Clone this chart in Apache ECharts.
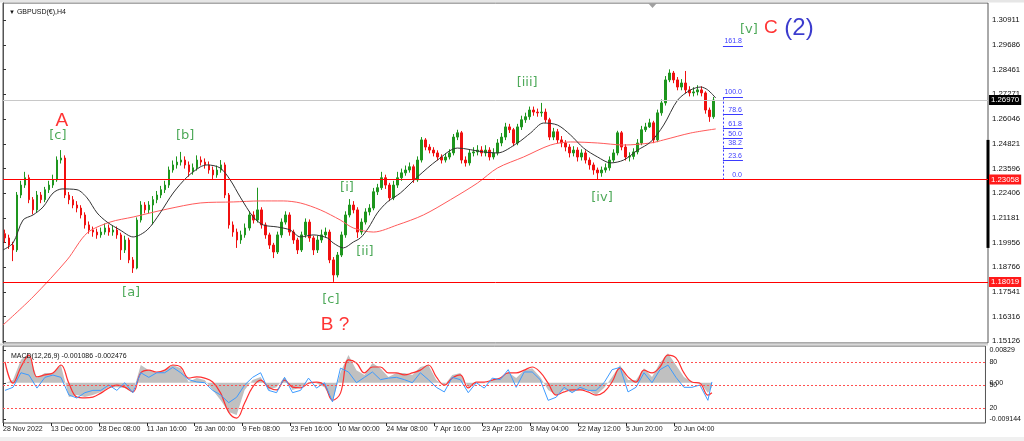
<!DOCTYPE html>
<html>
<head>
<meta charset="utf-8">
<title>GBPUSD H4</title>
<script src="https://cdn.jsdelivr.net/npm/echarts@6/dist/echarts.min.js"></script>
<style>
  html, body { margin: 0; padding: 0; background: #fff; }
  #chart { width: 1024px; height: 441px; }
</style>
</head>
<body>
<div id="chart"></div>
<script>
// price data, one candle per slot
var firstOpen = 1.2040;
var closes = [
  1.2019, 1.1984, 1.1960, 1.2230, 1.2279, 1.2315, 1.2207, 1.2157, 1.2230, 1.2207,
  1.2256, 1.2279, 1.2305, 1.2402, 1.2412, 1.2230, 1.2207, 1.2181, 1.2166, 1.2132,
  1.2083, 1.2058, 1.2048, 1.2034, 1.2048, 1.2068, 1.2048, 1.2058, 1.2034, 1.1960,
  1.2009, 1.1911, 1.1871, 1.2107, 1.2181, 1.2157, 1.2181, 1.2207, 1.2230, 1.2256,
  1.2279, 1.2353, 1.2378, 1.2392, 1.2402, 1.2378, 1.2344, 1.2364, 1.2402, 1.2392,
  1.2378, 1.2353, 1.2329, 1.2353, 1.2378, 1.2230, 1.2083, 1.2048, 1.2009, 1.2034,
  1.2068, 1.2132, 1.2107, 1.2157, 1.2083, 1.2034, 1.1984, 1.1950, 1.2034, 1.2097,
  1.2132, 1.2048, 1.2009, 1.1960, 1.2034, 1.2097, 1.2019, 1.1960, 1.2009, 1.2034,
  1.2048, 1.1911, 1.1837, 1.1935, 1.2034, 1.2132, 1.2181, 1.2157, 1.2048, 1.2097,
  1.2147, 1.2166, 1.2246, 1.2266, 1.2315, 1.2279, 1.2216, 1.2279, 1.2315, 1.2339,
  1.2353, 1.2369, 1.2305, 1.2402, 1.2501, 1.2466, 1.2451, 1.2437, 1.2417, 1.2402,
  1.2417, 1.2437, 1.2515, 1.2536, 1.2402, 1.2388, 1.2437, 1.2442, 1.2451, 1.2437,
  1.2451, 1.2417, 1.2437, 1.2486, 1.2515, 1.2565, 1.2551, 1.2486, 1.2565, 1.2600,
  1.2615, 1.2648, 1.2638, 1.2634, 1.2638, 1.2600, 1.2515, 1.2541, 1.2501, 1.2486,
  1.2466, 1.2437, 1.2451, 1.2417, 1.2437, 1.2402, 1.2378, 1.2353, 1.2339, 1.2353,
  1.2364, 1.2402, 1.2437, 1.2536, 1.2466, 1.2417, 1.2420, 1.2442, 1.2486, 1.2551,
  1.2565, 1.2585, 1.2501, 1.2634, 1.2683, 1.2796, 1.2830, 1.2796, 1.2761, 1.2781,
  1.2747, 1.2732, 1.2737, 1.2747, 1.2732, 1.2648, 1.2615, 1.2697
];
var highs = [
  1.2060, 1.2035, 1.2000, 1.2245, 1.2300, 1.2344, 1.2330, 1.2220, 1.2250, 1.2245,
  1.2270, 1.2300, 1.2330, 1.2420, 1.2451, 1.2425, 1.2245, 1.2225, 1.2200, 1.2180,
  1.2145, 1.2100, 1.2075, 1.2065, 1.2070, 1.2090, 1.2085, 1.2080, 1.2075, 1.2045,
  1.2030, 1.2020, 1.1925, 1.2120, 1.2200, 1.2195, 1.2200, 1.2225, 1.2250, 1.2275,
  1.2300, 1.2370, 1.2400, 1.2420, 1.2442, 1.2420, 1.2395, 1.2385, 1.2425, 1.2420,
  1.2410, 1.2395, 1.2370, 1.2375, 1.2402, 1.2390, 1.2240, 1.2100, 1.2065, 1.2055,
  1.2090, 1.2150, 1.2150, 1.2266, 1.2170, 1.2095, 1.2045, 1.1995, 1.2050, 1.2115,
  1.2150, 1.2145, 1.2060, 1.2020, 1.2050, 1.2115, 1.2110, 1.2030, 1.2030, 1.2060,
  1.2070, 1.2060, 1.1925, 1.1950, 1.2050, 1.2150, 1.2210, 1.2200, 1.2170, 1.2115,
  1.2165, 1.2185, 1.2265, 1.2285, 1.2344, 1.2330, 1.2290, 1.2300, 1.2344, 1.2360,
  1.2375, 1.2390, 1.2380, 1.2420, 1.2515, 1.2510, 1.2480, 1.2465, 1.2450, 1.2430,
  1.2435, 1.2455, 1.2530, 1.2551, 1.2545, 1.2420, 1.2455, 1.2465, 1.2475, 1.2470,
  1.2475, 1.2465, 1.2460, 1.2505, 1.2535, 1.2585, 1.2580, 1.2560, 1.2580, 1.2620,
  1.2635, 1.2665, 1.2665, 1.2655, 1.2683, 1.2655, 1.2610, 1.2560, 1.2555, 1.2520,
  1.2500, 1.2480, 1.2470, 1.2465, 1.2455, 1.2450, 1.2415, 1.2390, 1.2365, 1.2370,
  1.2385, 1.2420, 1.2455, 1.2546, 1.2545, 1.2480, 1.2440, 1.2460, 1.2505, 1.2570,
  1.2585, 1.2605, 1.2595, 1.2650, 1.2700, 1.2815, 1.2848, 1.2840, 1.2810, 1.2800,
  1.2840, 1.2765, 1.2760, 1.2770, 1.2765, 1.2740, 1.2660, 1.2712
];
var lows = [
  1.1995, 1.1965, 1.1905, 1.1950, 1.2215, 1.2265, 1.2190, 1.2135, 1.2145, 1.2190,
  1.2195, 1.2240, 1.2265, 1.2295, 1.2385, 1.2215, 1.2185, 1.2165, 1.2145, 1.2115,
  1.2065, 1.2040, 1.2025, 1.2015, 1.2020, 1.2035, 1.2030, 1.2030, 1.2015, 1.1911,
  1.1945, 1.1895, 1.1847, 1.1865, 1.2095, 1.2140, 1.2140, 1.2085, 1.2190, 1.2215,
  1.2240, 1.2265, 1.2340, 1.2360, 1.2375, 1.2360, 1.2320, 1.2330, 1.2350, 1.2375,
  1.2360, 1.2335, 1.2305, 1.2315, 1.2340, 1.2215, 1.2065, 1.2025, 1.1970, 1.1990,
  1.2020, 1.2055, 1.2090, 1.2095, 1.2065, 1.2015, 1.1965, 1.1920, 1.1940, 1.2020,
  1.2085, 1.2030, 1.1990, 1.1940, 1.1950, 1.2020, 1.2000, 1.1935, 1.1945, 1.1995,
  1.2020, 1.1895, 1.1803, 1.1825, 1.1925, 1.2020, 1.2120, 1.2140, 1.2019, 1.2035,
  1.2085, 1.2130, 1.2155, 1.2230, 1.2255, 1.2260, 1.2200, 1.2205, 1.2265, 1.2300,
  1.2325, 1.2340, 1.2290, 1.2295, 1.2390, 1.2450, 1.2435, 1.2420, 1.2400, 1.2385,
  1.2390, 1.2405, 1.2425, 1.2500, 1.2385, 1.2370, 1.2375, 1.2420, 1.2425, 1.2420,
  1.2420, 1.2400, 1.2405, 1.2425, 1.2470, 1.2500, 1.2535, 1.2470, 1.2475, 1.2550,
  1.2585, 1.2600, 1.2620, 1.2615, 1.2615, 1.2585, 1.2500, 1.2500, 1.2485, 1.2465,
  1.2445, 1.2415, 1.2420, 1.2395, 1.2400, 1.2385, 1.2355, 1.2330, 1.2306, 1.2320,
  1.2340, 1.2350, 1.2390, 1.2425, 1.2450, 1.2400, 1.2395, 1.2405, 1.2430, 1.2475,
  1.2540, 1.2560, 1.2485, 1.2490, 1.2620, 1.2670, 1.2785, 1.2780, 1.2745, 1.2745,
  1.2730, 1.2715, 1.2715, 1.2720, 1.2715, 1.2630, 1.2590, 1.2605
];

// moving averages, [slot, price]
var maFast = [
  [0, 1.1960], [2.5, 1.1994], [5, 1.2107], [7.5, 1.2132], [10, 1.2171], [12.5, 1.2240],
  [14.75, 1.2260], [18.5, 1.2256], [21, 1.2216], [23.5, 1.2142], [26, 1.2097], [29.25, 1.2058],
  [32.5, 1.2024], [36, 1.2058], [39.25, 1.2142], [42.5, 1.2240], [46, 1.2319], [49.25, 1.2368],
  [51, 1.2378], [54.25, 1.2363], [56.75, 1.2304], [59.25, 1.2220], [62.5, 1.2122], [65, 1.2083],
  [68.5, 1.2073], [71.75, 1.2058], [74.25, 1.2024], [77.5, 1.2034], [81, 1.2019], [82.5, 1.1994],
  [85, 1.1970], [87.5, 1.1999], [89.25, 1.2019], [91.25, 1.2068], [93.5, 1.2142], [96, 1.2196],
  [99.25, 1.2240], [103.5, 1.2319], [108.5, 1.2402], [113.5, 1.2461], [120, 1.2442], [123.5, 1.2437],
  [128.5, 1.2486], [131.75, 1.2535], [135, 1.2584], [138.5, 1.2574], [141.75, 1.2525], [145, 1.2461],
  [148.5, 1.2417], [151.75, 1.2388], [155, 1.2402], [158.5, 1.2451], [161.75, 1.2491], [165, 1.2574],
  [168.5, 1.2697], [171.75, 1.2747], [174.25, 1.2761], [176, 1.2747], [178, 1.2707]
];
var maSlow = [
  [0, 1.1591], [7.5, 1.1729], [16, 1.1911], [21, 1.2043], [26.75, 1.2097], [32.5, 1.2122],
  [41, 1.2161], [49.25, 1.2191], [57.5, 1.2196], [64.25, 1.2201], [70, 1.2201], [74.25, 1.2191],
  [79.25, 1.2157], [84.25, 1.2107], [87.5, 1.2068], [92.5, 1.2048], [98.5, 1.2083], [105, 1.2132],
  [111.75, 1.2207], [118.5, 1.2289], [123.5, 1.2363], [130, 1.2417], [136.75, 1.2476], [141.75, 1.2491],
  [148.5, 1.2486], [155, 1.2476], [161.75, 1.2486], [165, 1.2501], [171.75, 1.2535], [178, 1.2555]
];

// MACD panel, one sample every second candle
var macdMain = [
  -0.0001, 0.0007, 0.0058, 0.0075, 0.0012, 0.0025, 0.0025, 0.0045, -0.0036, -0.0031,
  -0.0036, -0.0031, -0.0023, -0.0011, -0.0011, -0.0013, -0.0026, 0.0045, 0.0032, 0.0025,
  0.0032, 0.0045, 0.0037, 0.0002, 0.0012, 0.0007, -0.0018, -0.0044, -0.0074, -0.0081,
  -0.0018, 0.0007, 0.0015, -0.0018, -0.0011, 0.0015, -0.0018, -0.0011, 0.0002, -0.0001,
  -0.0011, -0.0049, 0.0027, 0.0070, 0.0032, 0.0020, 0.0050, 0.0037, 0.0015, 0.0025,
  0.0025, 0.0020, 0.0040, 0.0045, 0.0007, -0.0006, 0.0020, 0.0025, -0.0011, -0.0001,
  -0.0001, 0.0007, 0.0012, 0.0027, 0.0012, 0.0032, 0.0037, 0.0015, -0.0018, -0.0031,
  -0.0018, -0.0023, -0.0018, -0.0018, -0.0031, -0.0013, 0.0015, 0.0045, 0.0007, 0.0007,
  0.0037, 0.0015, 0.0050, 0.0075, 0.0045, 0.0015, 0.0002, 0.0002, -0.0026, -0.0011
];
var macdSignal = [
  0.0053, -0.0001, 0.0040, 0.0070, 0.0015, 0.0020, 0.0025, 0.0045, -0.0001, -0.0036,
  -0.0038, -0.0036, -0.0026, -0.0013, -0.0006, -0.0011, -0.0023, 0.0025, 0.0032, 0.0027,
  0.0032, 0.0045, 0.0040, 0.0012, 0.0015, 0.0012, 0.0002, -0.0026, -0.0074, -0.0089,
  -0.0051, -0.0011, 0.0007, -0.0011, -0.0018, 0.0007, -0.0011, -0.0013, -0.0001, 0.0002,
  -0.0006, -0.0044, -0.0026, 0.0058, 0.0050, 0.0025, 0.0040, 0.0040, 0.0025, 0.0025,
  0.0020, 0.0025, 0.0032, 0.0045, 0.0015, -0.0006, 0.0012, 0.0020, -0.0013, 0.0002,
  0.0002, 0.0007, 0.0012, 0.0025, 0.0025, 0.0032, 0.0040, 0.0027, -0.0001, -0.0031,
  -0.0023, -0.0018, -0.0018, -0.0023, -0.0031, -0.0023, 0.0002, 0.0037, 0.0015, 0.0002,
  0.0032, 0.0025, 0.0040, 0.0070, 0.0063, 0.0025, 0.0002, -0.0001, -0.0031, -0.0025
];
var oscBlue = [
  43, 47, 66, 63, 46, 60, 63, 60, 37, 33, 40, 43, 43, 50, 43, 53, 40, 66, 60, 66,
  66, 73, 66, 57, 54, 53, 43, 37, 27, 34, 50, 60, 66, 43, 40, 60, 40, 43, 59, 46,
  53, 28, 72, 67, 53, 60, 67, 57, 59, 60, 57, 53, 66, 57, 47, 41, 60, 57, 40, 53,
  46, 59, 57, 70, 47, 67, 67, 57, 30, 34, 47, 40, 47, 43, 43, 53, 70, 73, 41, 47,
  66, 53, 70, 76, 60, 47, 47, 50, 30, 54
];
var oscLevels = [20, 50, 80];
var macdTicks = [0.00829, 0, -0.009144];

var priceTicks = [1.30911, 1.29686, 1.28461, 1.27271, 1.26046, 1.24821, 1.23596,
  1.22406, 1.21181, 1.19956, 1.18766, 1.17541, 1.16316, 1.15126];
var timeLabels = ['28 Nov 2022', '13 Dec 00:00', '28 Dec 08:00', '11 Jan 16:00', '26 Jan 00:00',
  '9 Feb 08:00', '23 Feb 16:00', '10 Mar 00:00', '24 Mar 08:00', '7 Apr 16:00',
  '23 Apr 22:00', '8 May 04:00', '22 May 12:00', '5 Jun 20:00', '20 Jun 04:00'];

var lastPrice = '1.26970';
var supportLevels = ['1.23058', '1.18019'];

var fibLow = 1.23058, fibHigh = 1.2712;
var fibLevels = [0, 23.6, 38.2, 50, 61.8, 78.6, 100, 161.8];
var fibFrom = 179.8, fibTo = 184.8;
var rangeBar = [1.2501, 1.1970];

var waveLabels = [
  { text: 'A', x: 14.7, price: 1.2594, kind: 'major' },
  { text: '[c]', x: 13.7, price: 1.2520, kind: 'minor' },
  { text: '[b]', x: 45.5, price: 1.2520, kind: 'minor' },
  { text: '[a]', x: 32.0, price: 1.1748, kind: 'minor' },
  { text: '[c]', x: 81.9, price: 1.1714, kind: 'minor' },
  { text: 'B ?', x: 82.9, price: 1.1591, kind: 'major' },
  { text: '[i]', x: 85.9, price: 1.2265, kind: 'minor' },
  { text: '[ii]', x: 90.4, price: 1.1950, kind: 'minor' },
  { text: '[iii]', x: 130.9, price: 1.2781, kind: 'minor' },
  { text: '[iv]', x: 149.6, price: 1.2215, kind: 'minor' },
  { text: '[v]', x: 186.3, price: 1.3041, kind: 'minor' },
  { text: 'C', x: 191.8, price: 1.3051, kind: 'major' },
  { text: '(2)', x: 198.8, price: 1.3051, kind: 'degree' }
];

// ---- layout ----
var N_SLOTS = 246;       // candle slots across the plot
var LABEL_EVERY = 12;    // slots between time labels
var MACD_STEP = 2;

var waveStyle = {
  minor: { color: '#22932f', fontSize: 13, fontFamily: 'DejaVu Sans' },
  major: { color: '#ff0000', fontSize: 19, fontFamily: 'Liberation Sans' },
  degree: { color: '#0a0ac0', fontSize: 24, fontFamily: 'Liberation Sans' }
};

var cats = [];
for (var i = 0; i < N_SLOTS; i++) cats.push(String(i));

var candles = closes.map(function (c, i) {
  var o = i === 0 ? firstOpen : closes[i - 1];
  return [o, c, lows[i], highs[i]];
});

function macdX(k, n) {
  return k === n - 1 ? closes.length - 0.5 : k * MACD_STEP + 0.5;
}
function toXY(arr) {
  return arr.map(function (v, k) { return [macdX(k, arr.length), v]; });
}
// full-width horizontal segment on a value x axis
function hLine(y, color, extra) {
  var first = { coord: [0, y], lineStyle: { color: color, width: 1 } };
  if (extra) Object.keys(extra).forEach(function (k) { first[k] = extra[k]; });
  return [first, { coord: [N_SLOTS, y] }];
}

var timeIdx = timeLabels.map(function (t, i) { return i * LABEL_EVERY; });

var fibLines = fibLevels.map(function (r) {
  var p = fibLow + (fibHigh - fibLow) * r / 100;
  return [
    { coord: [fibFrom, p], label: { show: true, position: 'insideEndTop', distance: 1, fontSize: 7, color: '#3b3bff', formatter: r.toFixed(1) } },
    { coord: [fibTo, p] }
  ];
});
fibLines.push([
  { coord: [fibFrom, fibLow], lineStyle: { type: [2, 2] } },
  { coord: [fibFrom, fibHigh] }
]);

var boxLabel = { show: true, position: 'end', distance: 1, color: '#fff', fontSize: 7.8, padding: [1, 2, 1, 2] };
var levelLines = [hLine(Number(lastPrice), '#c8c8c8', {
  label: Object.assign({}, boxLabel, { backgroundColor: '#000000', formatter: lastPrice })
})];
supportLevels.forEach(function (p) {
  levelLines.push(hLine(Number(p), '#ff0000', {
    label: Object.assign({}, boxLabel, { backgroundColor: '#ff1a1a', formatter: p })
  }));
});

var waveData = waveLabels.map(function (w) {
  var s = waveStyle[w.kind];
  return {
    value: [w.x, w.price],
    label: { formatter: w.text, color: s.color, fontSize: s.fontSize, fontFamily: s.fontFamily }
  };
});

var chart = echarts.init(document.getElementById('chart'), null, { renderer: 'canvas' });

var option = {
  animation: false,
  backgroundColor: '#ffffff',
  textStyle: { fontFamily: 'Liberation Sans' },
  title: [
    {
      text: '{t|▼} GBPUSD(€),H4', left: 4, top: 4,
      textStyle: { fontSize: 7, fontWeight: 'normal', color: '#111', rich: { t: { fontSize: 6, color: '#111' } } }
    },
    {
      text: 'MACD(12,26,9) -0.001086 -0.002476', left: 6, top: 348,
      textStyle: { fontSize: 7, fontWeight: 'normal', color: '#111' }
    }
  ],
  graphic: [
    { type: 'rect', shape: { x: 0, y: 0, width: 1024, height: 2.5 }, style: { fill: '#e6e6e6' }, silent: true },
    { type: 'rect', shape: { x: 0, y: 437, width: 1024, height: 4 }, style: { fill: '#f0f0f0' }, silent: true },
    { type: 'rect', shape: { x: 0, y: 343.5, width: 988, height: 2 }, style: { fill: '#d8d8d8' }, silent: true },
    { type: 'polygon', shape: { points: [[648, 3], [657, 3], [652.5, 8]] }, style: { fill: '#a0a0a0' }, silent: true }
  ],
  grid: [
    { left: 3, top: 3, width: 985, height: 340, show: true, borderColor: '#555', borderWidth: 1, backgroundColor: '#fff' },
    { left: 3, top: 346, width: 985, height: 77, show: true, borderColor: '#555', borderWidth: 1, backgroundColor: '#fff' }
  ],
  xAxis: [
    { type: 'category', gridIndex: 0, data: cats, boundaryGap: true, show: false },
    { type: 'value', gridIndex: 0, min: 0, max: N_SLOTS, show: false },
    {
      type: 'value', gridIndex: 1, min: 0, max: N_SLOTS,
      axisLine: { show: false, onZero: false }, splitLine: { show: false },
      axisTick: { show: true, customValues: timeIdx, length: 3, lineStyle: { color: '#222' } },
      axisLabel: {
        customValues: timeIdx, align: 'left', fontSize: 7, color: '#222', margin: 3,
        formatter: function (v) { return timeLabels[Math.round(v / LABEL_EVERY)] || ''; }
      }
    }
  ],
  yAxis: [
    {
      type: 'value', gridIndex: 0, position: 'right', min: 1.15025, max: 1.31742,
      splitLine: { show: false },
      axisLine: { show: true, lineStyle: { color: '#555' } },
      axisTick: { show: true, customValues: priceTicks, length: 3, lineStyle: { color: '#333' } },
      axisLabel: {
        customValues: priceTicks, fontSize: 7.8, color: '#111', margin: 4,
        formatter: function (v) { return v.toFixed(5); }
      }
    },
    {
      type: 'value', gridIndex: 1, position: 'right', min: -0.01015, max: 0.0093,
      splitLine: { show: false },
      axisLine: { show: true, lineStyle: { color: '#555' } },
      axisTick: { show: true, customValues: macdTicks, length: 3, lineStyle: { color: '#333' } },
      axisLabel: {
        customValues: macdTicks, fontSize: 7, color: '#111', margin: 4,
        formatter: function (v) { return v === 0 ? '0.00' : String(v); }
      }
    },
    {
      type: 'value', gridIndex: 1, position: 'right', min: 0.44, max: 100.9,
      splitLine: { show: false }, axisLine: { show: false },
      axisTick: { show: false },
      axisLabel: { customValues: oscLevels, fontSize: 7, color: '#111', margin: 4 }
    }
  ],
  series: [
    {
      type: 'candlestick', xAxisIndex: 0, yAxisIndex: 0, data: candles, barWidth: 2,
      itemStyle: { color: '#1e961e', color0: '#f01010', borderColor: '#1e961e', borderColor0: '#f01010', borderWidth: 1 }
    },
    {
      type: 'line', xAxisIndex: 1, yAxisIndex: 0, data: maSlow, smooth: 0.3, symbol: 'none',
      lineStyle: { color: '#ff5a5a', width: 1 }
    },
    {
      type: 'line', xAxisIndex: 1, yAxisIndex: 0, data: maFast, smooth: 0.3, symbol: 'none',
      lineStyle: { color: '#333333', width: 1 }
    },
    {
      type: 'scatter', xAxisIndex: 1, yAxisIndex: 0, data: waveData, symbolSize: 1,
      itemStyle: { color: 'rgba(0,0,0,0)' },
      label: { show: true, position: 'inside' },
      markLine: {
        silent: true, symbol: ['none', 'none'],
        lineStyle: { color: '#3b3bff', width: 1, type: 'solid' },
        label: { show: false },
        data: fibLines.concat(levelLines)
      }
    },
    {
      type: 'line', xAxisIndex: 1, yAxisIndex: 0, clip: false, symbol: 'none',
      data: rangeBar.map(function (p) { return [N_SLOTS, p]; }),
      lineStyle: { color: '#000', width: 3 }
    },
    {
      type: 'line', xAxisIndex: 2, yAxisIndex: 1, data: toXY(macdMain), symbol: 'none',
      lineStyle: { width: 0 }, areaStyle: { color: '#c0c0c0', opacity: 1 }
    },
    {
      type: 'line', xAxisIndex: 2, yAxisIndex: 1, data: toXY(macdSignal), symbol: 'none', smooth: 0.4,
      lineStyle: { color: '#ff3030', width: 1.2 }
    },
    {
      type: 'line', xAxisIndex: 2, yAxisIndex: 2, data: toXY(oscBlue), symbol: 'none',
      lineStyle: { color: '#3d9bff', width: 1 },
      markLine: {
        silent: true, symbol: ['none', 'none'], label: { show: false },
        lineStyle: { color: '#ff5050', width: 1, type: [2, 2] },
        data: oscLevels.map(function (v) { return hLine(v, '#ff5050'); })
      }
    }
  ]
};

chart.setOption(option);
</script>
</body>
</html>
